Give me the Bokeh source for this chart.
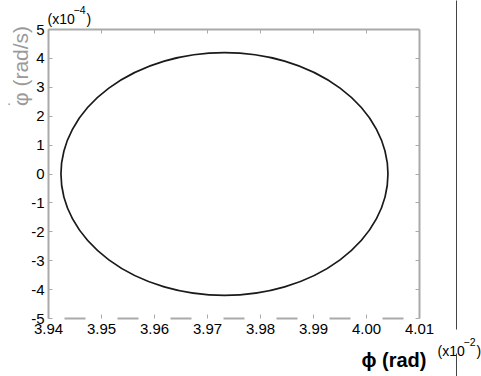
import math
from bokeh.plotting import figure
from bokeh.models import (LinearAxis, FixedTicker, Range1d, Label, BoxAnnotation)
from bokeh.embed import file_html
from bokeh.resources import INLINE

# ---- data ----
x_ticks = [3.94, 3.95, 3.96, 3.97, 3.98, 3.99, 4.00, 4.01]
x_tick_labels = ["3.94", "3.95", "3.96", "3.97", "3.98", "3.99", "4.00", "4.01"]
y_ticks = [5, 4, 3, 2, 1, 0, -1, -2, -3, -4, -5]
y_tick_labels = ["5", "4", "3", "2", "1", "0", "-1", "-2", "-3", "-4", "-5"]
# phase-plane orbit (ellipse): centre and full width/height
orbit_center_phi = [3.9732]
orbit_center_dphi = [0.0]          # x10^-4 rad/s
orbit_width_phi = [0.0617]         # rad
orbit_height_dphi = [8.4]          # x10^-4 rad/s

FONT = "Liberation Sans"
AXIS_GRAY = "#aaaaaa"

X0, X1 = 3.94, 4.01
Y0, Y1 = -5, 5
PX_X = 371 / (X1 - X0)   # pixels per rad
PX_Y = 289 / (Y1 - Y0)   # pixels per unit

p = figure(width=481, height=376, min_border=0,
           x_range=Range1d(X0 - 48 / PX_X, X0 + 433 / PX_X),
           y_range=Range1d(Y0 - 58 / PX_Y, Y1 + 29 / PX_Y),
           output_backend="svg", toolbar_location=None,
           x_axis_location=None, y_axis_location=None)
p.outline_line_color = None
p.xgrid.visible = False
p.ygrid.visible = False
p.background_fill_color = "white"
p.border_fill_color = "white"

def style(ax):
    ax.axis_line_color = AXIS_GRAY
    ax.axis_line_width = 2
    ax.major_tick_line_color = AXIS_GRAY
    ax.major_tick_in = 4
    ax.major_tick_out = 0
    ax.minor_tick_line_color = None
    ax.major_label_text_font = FONT
    ax.major_label_text_font_size = "15px"
    ax.major_label_text_color = "black"

bottom = LinearAxis(ticker=FixedTicker(ticks=x_ticks), fixed_location=Y0, bounds=(X0, X1))
style(bottom)
bottom.major_label_overrides = dict(zip(x_ticks, x_tick_labels))
bottom.major_label_standoff = 5
bottom.axis_line_dash = "21 32"
bottom.axis_line_dash_offset = 37
p.add_layout(bottom, "below")

left = LinearAxis(ticker=FixedTicker(ticks=y_ticks), fixed_location=X0, bounds=(Y0, Y1))
style(left)
left.major_label_overrides = dict(zip(y_ticks, y_tick_labels))
left.major_label_standoff = 4
p.add_layout(left, "left")

top = LinearAxis(ticker=FixedTicker(ticks=x_ticks), fixed_location=Y1, bounds=(X0, X1))
style(top)
top.major_label_overrides = {t: "" for t in x_ticks}
p.add_layout(top, "above")

right = LinearAxis(ticker=FixedTicker(ticks=y_ticks), fixed_location=X1, bounds=(Y0, Y1))
style(right)
right.major_label_overrides = {t: "" for t in y_ticks}
p.add_layout(right, "right")

p.ellipse(x=orbit_center_phi, y=orbit_center_dphi,
          width=orbit_width_phi, height=orbit_height_dphi,
          fill_alpha=0, line_color="#1a1a1a", line_width=1.7)

def sx(px):  # canvas px -> data x (placement helper for annotations)
    return X0 + (px - 48) / PX_X

def sy(py):  # canvas px -> data y
    return Y1 - (py - 29) / PX_Y

def txt(x, y, s, size, align="left", baseline="alphabetic", color="black",
        style="normal", angle=0.0):
    p.add_layout(Label(x=sx(x), y=sy(y), text=s, angle=angle,
                       text_align=align, text_baseline=baseline,
                       text_font=FONT, text_font_size=size,
                       text_font_style=style, text_color=color))

# y-axis title (phi-dot), rotated
txt(20, 65.5, "\u03c6 (rad/s)", "21px", align="center", baseline="middle",
    color="#9a9a9a", angle=math.pi / 2)
txt(8.5, 102, "\u00b7", "14px", align="center", baseline="middle", color="#9a9a9a")

# x-axis title
txt(393.5, 359, "\u03d5 (rad)", "20px", align="center", baseline="middle", style="bold")

# multipliers
txt(47, 18, "(x10", "14px")
txt(73, 9, "\u22124", "10.5px")
txt(86, 18, ")", "14px")

txt(437, 350, "(x10", "14px")
txt(463, 341.5, "\u22122", "10.5px")
txt(476, 350, ")", "14px")

# thin dark vertical rule at the right (with a gap around the multiplier)
p.add_layout(BoxAnnotation(left=sx(455.5), right=sx(456.5), bottom=sy(329), top=sy(-5),
                           fill_color="#444444", fill_alpha=1, line_color=None))
p.add_layout(BoxAnnotation(left=sx(455.5), right=sx(456.5), bottom=sy(381), top=sy(353),
                           fill_color="#444444", fill_alpha=1, line_color=None))

open("out.html", "w").write(file_html(p, INLINE))
